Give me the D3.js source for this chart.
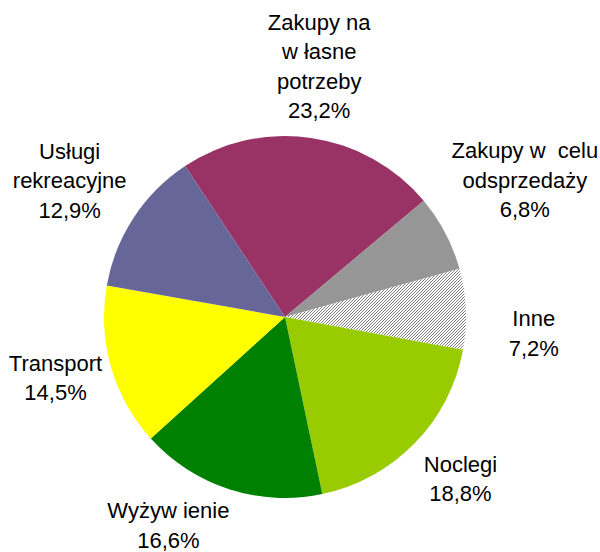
<!DOCTYPE html>
<html>
<head>
<meta charset="utf-8">
<script src="https://cdn.jsdelivr.net/npm/d3@7/dist/d3.min.js"></script>
<style>
  html, body { margin: 0; padding: 0; background: #fff; }
  svg { display: block; }
  text { white-space: pre; }
</style>
</head>
<body>
<svg id="chart" width="600" height="552"></svg>
<script>
// ---- data ----
const categories = [
  ["Zakupy na", "w łasne", "potrzeby"],
  ["Zakupy w  celu", "odsprzedaży"],
  ["Inne"],
  ["Noclegi"],
  ["Wyżyw ienie"],
  ["Transport"],
  ["Usługi", "rekreacyjne"]
];
const values = [23.2, 6.8, 7.2, 18.8, 16.6, 14.5, 12.9];
const valueLabels = ["23,2%", "6,8%", "7,2%", "18,8%", "16,6%", "14,5%", "12,9%"];

// ---- styles / layout ----
const colors = ["#993366", "#969696", "url(#hatch)", "#99CC00", "#008000", "#FFFF00", "#666699"];
const labelNudge = [[-1, -8], [23, -23], [4, 27], [0, -9], [-41, -24.5], [6, -7], [-10.5, -2]];
const cx = 285, cy = 317, R = 181, labelR = 245;
const fontSize = 22, lineH = 29.5;
const startDeg = -33.5;

const svg = d3.select("#chart");
const defs = svg.append("defs");
const pat = defs.append("pattern")
  .attr("id", "hatch")
  .attr("patternUnits", "userSpaceOnUse")
  .attr("width", 3).attr("height", 3);
pat.append("rect").attr("width", 3).attr("height", 3).attr("fill", "#fff");
pat.append("path")
  .attr("d", "M0,3 L3,0 M-1,1 L1,-1 M2,4 L4,2")
  .attr("stroke", "#707070").attr("stroke-width", 0.9);

const start = startDeg * Math.PI / 180;
const pie = d3.pie().sort(null).value(d => d)
  .startAngle(start).endAngle(start + 2 * Math.PI);
const arcs = pie(values);
const arc = d3.arc().innerRadius(0).outerRadius(R);

const g = svg.append("g").attr("transform", `translate(${cx},${cy})`);
g.selectAll("path.slice")
  .data(arcs)
  .join("path")
  .attr("class", "slice")
  .attr("d", arc)
  .attr("fill", (d, i) => colors[i]);

// labels
const lg = svg.append("g")
  .attr("font-family", "'Liberation Sans', Arial, sans-serif")
  .attr("font-size", fontSize)
  .attr("fill", "#000")
  .attr("text-anchor", "middle");

arcs.forEach((d, i) => {
  const mid = (d.startAngle + d.endAngle) / 2;
  const bx = cx + labelR * Math.sin(mid) + labelNudge[i][0];
  const by = cy - labelR * Math.cos(mid) + labelNudge[i][1];
  const lines = categories[i].concat([valueLabels[i]]);
  const n = lines.length;
  const t = lg.append("text").attr("xml:space", "preserve");
  lines.forEach((ln, k) => {
    t.append("tspan")
      .attr("x", bx)
      .attr("y", by - (n - 1) / 2 * lineH + k * lineH + 0.35 * fontSize)
      .text(ln);
  });
});
</script>
</body>
</html>
